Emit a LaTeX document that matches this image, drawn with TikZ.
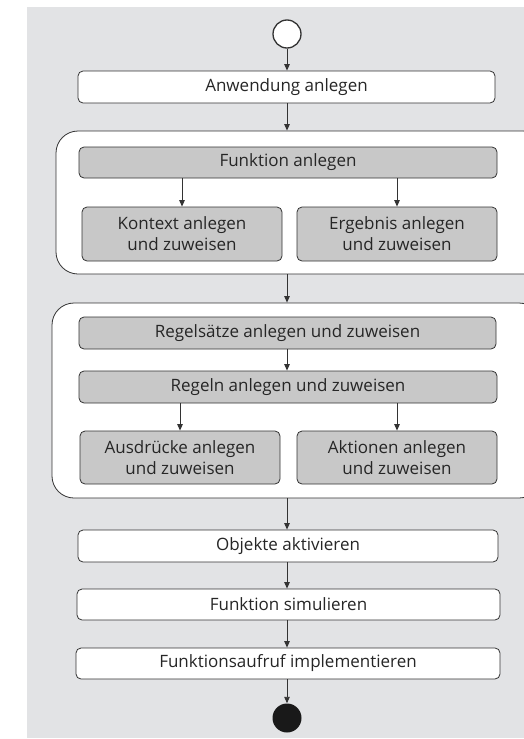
\documentclass[tikz,border=0pt]{standalone}
\usepackage{fontspec}
\setmainfont{Open Sans}
\usetikzlibrary{arrows.meta}
\definecolor{bggray}{HTML}{E2E3E5}
\definecolor{boxgray}{HTML}{C8C8C8}
\definecolor{linecol}{HTML}{333333}
\tikzset{
  basebox/.style={draw=linecol, line width=0.8pt, rounded corners=5pt, inner sep=0pt,
    font=\fontsize{17}{21}\selectfont, text=black!85, align=center},
  lightbox/.style={basebox, fill=white},
  darkbox/.style={basebox, fill=boxgray},
  container/.style={draw=linecol, line width=0.8pt, fill=white, rounded corners=22pt, inner sep=0pt},
  flow/.style={draw=linecol, line width=0.9pt, -{Triangle[length=6.5pt,width=5.5pt]}},
}
\begin{document}
\begin{tikzpicture}[x=1pt,y=-1pt]
\useasboundingbox (0,0) rectangle (524,739);
\fill[bggray] (27,7) rectangle (524,738);
\coordinate (axis) at (287,0);
% start
\node[circle, draw=linecol, line width=1.3pt, fill=white, minimum size=28pt, inner sep=0pt] (start) at (287,34) {};
\node[lightbox, minimum width=417pt, minimum height=32pt] (anw) at (286.5,87) {Anwendung anlegen};
% container 1
\node[container, minimum width=489pt, minimum height=143pt] (c1) at (300.5,202.5) {};
\node[darkbox, minimum width=418pt, minimum height=31pt] (fkt) at (288,162.5) {Funktion anlegen};
\node[darkbox, minimum width=200pt, minimum height=54pt] (ktx) at (182,234) {Kontext anlegen\\und zuweisen};
\node[darkbox, minimum width=200pt, minimum height=54pt] (erg) at (397,234) {Ergebnis anlegen\\und zuweisen};
% container 2
\node[container, minimum width=489pt, minimum height=195pt] (c2) at (296.5,400.5) {};
\node[darkbox, minimum width=417pt, minimum height=32pt] (rs) at (287.5,333) {Regelsätze anlegen und zuweisen};
\node[darkbox, minimum width=418pt, minimum height=32pt] (rg) at (288,387) {Regeln anlegen und zuweisen};
\node[darkbox, minimum width=200pt, minimum height=53pt] (aus) at (180,457.5) {Ausdrücke anlegen\\und zuweisen};
\node[darkbox, minimum width=200pt, minimum height=53pt] (akt) at (397,457.5) {Aktionen anlegen\\und zuweisen};
% bottom boxes
\node[lightbox, minimum width=420pt, minimum height=32pt] (obj) at (288,546) {Objekte aktivieren};
\node[lightbox, minimum width=423pt, minimum height=31pt] (sim) at (288.5,604.5) {Funktion simulieren};
\node[lightbox, minimum width=424pt, minimum height=31pt] (imp) at (288,663.5) {Funktionsaufruf implementieren};
% end
\node[circle, fill=black!90, minimum size=29pt, inner sep=0pt] (end) at (287,718) {};
% arrows
\draw[flow] (start) -- (axis |- anw.north);
\draw[flow] (axis |- anw.south) -- (axis |- c1.north);
\draw[flow] (fkt.south -| ktx.north) -- (ktx.north);
\draw[flow] (fkt.south -| erg.north) -- (erg.north);
\draw[flow] (axis |- c1.south) -- (axis |- c2.north);
\draw[flow] (axis |- rs.south) -- (axis |- rg.north);
\draw[flow] (rg.south -| aus.north) -- (aus.north);
\draw[flow] (rg.south -| akt.north) -- (akt.north);
\draw[flow] (axis |- c2.south) -- (axis |- obj.north);
\draw[flow] (axis |- obj.south) -- (axis |- sim.north);
\draw[flow] (axis |- sim.south) -- (axis |- imp.north);
\draw[flow] (axis |- imp.south) -- (end);
\end{tikzpicture}
\end{document}
